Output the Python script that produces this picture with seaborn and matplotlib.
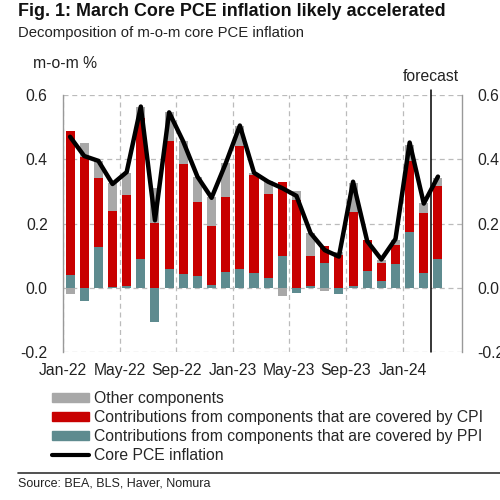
import numpy as np
import pandas as pd
import matplotlib
matplotlib.use("Agg")
import matplotlib.pyplot as plt
import seaborn as sns
from matplotlib.patches import Patch
from matplotlib.lines import Line2D

# Monthly data, Jan-22 .. Mar-24 (m-o-m %, contributions)
months = pd.date_range("2022-01-01", "2024-03-01", freq="MS").strftime("%b-%y").tolist()
ppi = [0.04, -0.04, 0.128, 0.002, 0.006, 0.089, -0.106, 0.057, 0.042, 0.037, 0.01, 0.05,
       0.058, 0.046, 0.03, 0.10, -0.016, 0.006, 0.078, -0.02, 0.006, 0.053, 0.02, 0.075,
       0.172, 0.045, 0.088]
cpi = [0.449, 0.408, 0.213, 0.237, 0.283, 0.438, 0.203, 0.40, 0.342, 0.231, 0.183, 0.233,
       0.384, 0.305, 0.262, 0.23, 0.273, 0.094, 0.052, 0.102, 0.231, 0.095, 0.057, 0.059,
       0.223, 0.187, 0.229]
other = [-0.018, 0.044, 0.052, 0.086, 0.067, 0.035, 0.107, 0.091, 0.073, 0.078, 0.09, 0.104,
         0.06, 0.005, 0.041, -0.025, 0.027, 0.07, -0.01, 0.01, 0.088, 0.0, 0.009, 0.015,
         0.05, 0.033, 0.025]
core_pce = [0.47, 0.41, 0.395, 0.323, 0.36, 0.564, 0.21, 0.546, 0.455, 0.346, 0.28, 0.387,
            0.505, 0.358, 0.33, 0.31, 0.286, 0.17, 0.117, 0.097, 0.33, 0.145, 0.088, 0.152,
            0.452, 0.262, 0.346]

tick_labels = ["Jan-22", "May-22", "Sep-22", "Jan-23", "May-23", "Sep-23", "Jan-24"]

C_RED = "#C80000"
C_TEAL = "#5E8B8F"
C_GRAY = "#A8A8A8"

sns.set_style("white")
plt.rcParams["font.family"] = ["Liberation Sans", "DejaVu Sans"]

fig = plt.figure(figsize=(5, 5), dpi=100)
ax = fig.add_axes([0.126, 0.296, 0.798, 0.514])

x = np.arange(len(months)) + 0.5
pos_base = np.zeros(len(months))
neg_base = np.zeros(len(months))
for vals, col in [(ppi, C_TEAL), (cpi, C_RED), (other, C_GRAY)]:
    v = np.array(vals)
    bottom = np.where(v >= 0, pos_base, neg_base)
    ax.bar(x, v, bottom=bottom, width=0.64, color=col, linewidth=0, zorder=2)
    pos_base = pos_base + np.clip(v, 0, None)
    neg_base = neg_base + np.clip(v, None, 0)

sns.lineplot(x=x, y=core_pce, ax=ax, color="black", linewidth=3.2, zorder=4)

ax.set_xlim(0, 28.2)
ax.set_ylim(-0.2, 0.6)
ax.set_yticks([-0.2, 0.0, 0.2, 0.4, 0.6])
ax.set_yticklabels(["-0.2", "0.0", "0.2", "0.4", "0.6"])
ax.set_xticks(np.arange(0, 27, 4))
ax.set_xticklabels(tick_labels)
ax.tick_params(axis="both", length=0, labelsize=11.3, colors="#222222")
ax.tick_params(axis="x", pad=8)
ax.tick_params(axis="y", pad=11)
ax.grid(True, color="#BBBBBB", linestyle=(0, (4, 3)), linewidth=0.9, zorder=0)

for s in ["left", "right"]:
    ax.spines[s].set_color("#999999")
    ax.spines[s].set_linewidth(1.0)
for s in ["top", "bottom"]:
    ax.spines[s].set_visible(False)

# right-hand axis labels
ax2 = ax.twinx()
ax2.set_ylim(-0.2, 0.6)
ax2.set_yticks([-0.2, 0.0, 0.2, 0.4, 0.6])
ax2.set_yticklabels(["-0.2", "0.0", "0.2", "0.4", "0.6"])
ax2.tick_params(axis="y", length=0, labelsize=11.3, colors="#222222", pad=11)
for s in ax2.spines.values():
    s.set_visible(False)

# forecast marker
ax.plot([26.0, 26.0], [-0.2, 0.615], color="black", linewidth=1.1, clip_on=False, zorder=5)
ax.text(26.0, 0.635, "forecast", ha="center", va="bottom", fontsize=11.3, color="#222222")

fig.text(0.036, 0.977, "Fig. 1: March Core PCE inflation likely accelerated",
         fontsize=12.85, fontweight="bold", color="#111111", va="center")
fig.text(0.036, 0.934, "Decomposition of m-o-m core PCE inflation",
         fontsize=10.7, color="#222222", va="center")
fig.text(0.066, 0.874, "m-o-m %", fontsize=11.3, color="#222222", va="center")

handles = [
    Patch(color=C_GRAY, label="Other components"),
    Patch(color=C_RED, label="Contributions from components that are covered by CPI"),
    Patch(color=C_TEAL, label="Contributions from components that are covered by PPI"),
    Line2D([0], [0], color="black", linewidth=3, label="Core PCE inflation"),
]
fig.legend(handles=handles, loc="upper left", bbox_to_anchor=(0.104, 0.218),
           frameon=False, fontsize=11.3, handlelength=2.36, handleheight=0.55,
           handletextpad=0.3, labelspacing=0.25, borderpad=0, borderaxespad=0)

fig.add_artist(Line2D([0.036, 1.0], [0.055, 0.055], color="#333333", linewidth=1.2))
fig.text(0.036, 0.032, "Source: BEA, BLS, Haver, Nomura", fontsize=9, color="#222222",
         va="center")

fig.savefig("out.png", dpi=100)
